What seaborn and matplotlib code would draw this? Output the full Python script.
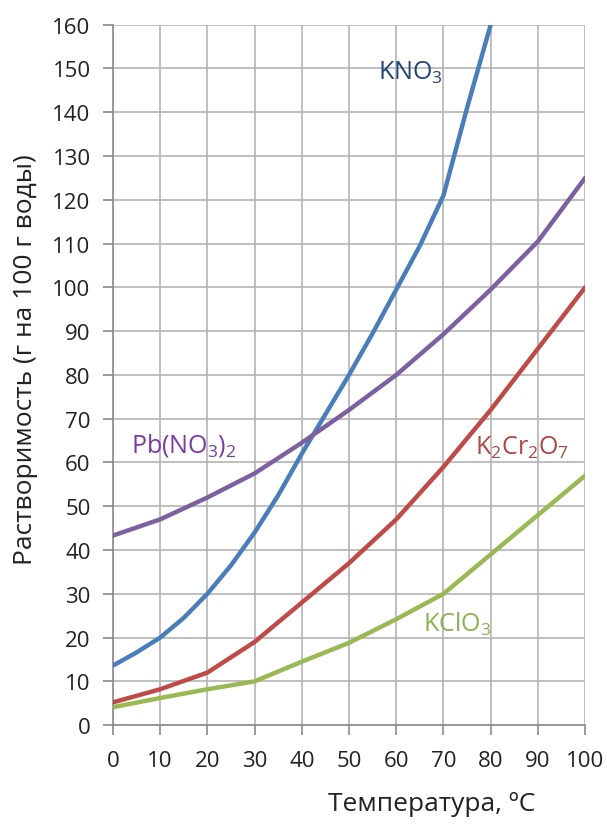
import pandas as pd
import matplotlib
matplotlib.use("Agg")
import matplotlib.pyplot as plt
import seaborn as sns

# ── data ──
# KNO3 is steep, so it is read every 5 degrees (it leaves the plot at 80 °C)
kno3_t = [0, 5, 10, 15, 20, 25, 30, 35, 40, 45, 50, 55, 60, 65, 70, 75, 80]
kno3 = [13.6, 16.6, 20, 24.5, 30, 36.5, 44, 52.5, 62, 71, 80, 89.5, 99.5, 109.5, 121, 141, 160]

temperature = [0, 10, 20, 30, 40, 50, 60, 70, 80, 90, 100]
pb_no3_2 = [43.3, 47, 52, 57.5, 64.5, 72, 80, 89.3, 99.5, 110.5, 125]
k2cr2o7 = [5.2, 8.2, 12, 19, 28, 37, 47, 59, 72, 86, 100]
kclo3 = [4.1, 6.2, 8.2, 10, 14.5, 18.8, 24.2, 30, 39, 48, 57]

series_names = ["KNO3", "Pb(NO3)2", "K2Cr2O7", "KClO3"]
line_colors = ["#4A7EBB", "#7D60A0", "#BE4B48", "#98B954"]

df = pd.concat([
    pd.DataFrame({"t": kno3_t, "s": kno3, "name": "KNO3"}),
    pd.DataFrame({"t": temperature, "s": pb_no3_2, "name": "Pb(NO3)2"}),
    pd.DataFrame({"t": temperature, "s": k2cr2o7, "name": "K2Cr2O7"}),
    pd.DataFrame({"t": temperature, "s": kclo3, "name": "KClO3"}),
], ignore_index=True)

sns.set_style("white")
plt.rcParams["font.family"] = ["Open Sans", "DejaVu Sans"]
plt.rcParams["mathtext.fontset"] = "custom"
plt.rcParams["mathtext.rm"] = "Open Sans"
plt.rcParams["mathtext.default"] = "rm"

fig = plt.figure(figsize=(6.07, 8.28), dpi=100)
ax = fig.add_axes([0.186, 0.123, 0.778, 0.846])

sns.lineplot(data=df, x="t", y="s", hue="name", hue_order=series_names,
             palette=line_colors, linewidth=3.2, legend=False, ax=ax, zorder=3)

ax.set_xlim(0, 100)
ax.set_ylim(0, 160)
ax.set_xticks(range(0, 101, 10))
ax.set_yticks(range(0, 161, 10))
ax.grid(True, color="#b4b4b4", linewidth=1.2)
for side in ["top", "right"]:
    ax.spines[side].set_visible(False)
for side in ["left", "bottom"]:
    ax.spines[side].set_color("#8a8a8a")
    ax.spines[side].set_linewidth(1.2)
ax.tick_params(axis="both", direction="out", length=7, width=1.2, color="#8a8a8a",
               labelsize=16, labelcolor="#222222", left=True, bottom=True)
ax.tick_params(axis="y", pad=9)
ax.tick_params(axis="x", pad=11)
ax.set_xlabel("")
ax.set_ylabel("Растворимость (г на 100 г воды)", fontsize=19, color="#222222")
ax.yaxis.set_label_coords(-0.158, 0.523)

fig.text(0.712, 0.028, "Температура, ºC", fontsize=19, color="#222222", ha="center", va="center")

# curve labels
ax.text(56.1, 147.7, r"KNO$_3$", fontsize=18, color="#22427A", va="baseline")
ax.text(3.9, 62.4, r"Pb(NO$_3$)$_2$", fontsize=18, color="#7A3AA6", va="baseline")
ax.text(76.7, 61.9, r"K$_2$Cr$_2$O$_7$", fontsize=18, color="#AE4644", va="baseline")
ax.text(65.7, 21.6, r"KClO$_3$", fontsize=18, color="#8DB04E", va="baseline")

fig.savefig("out.png", dpi=100)
